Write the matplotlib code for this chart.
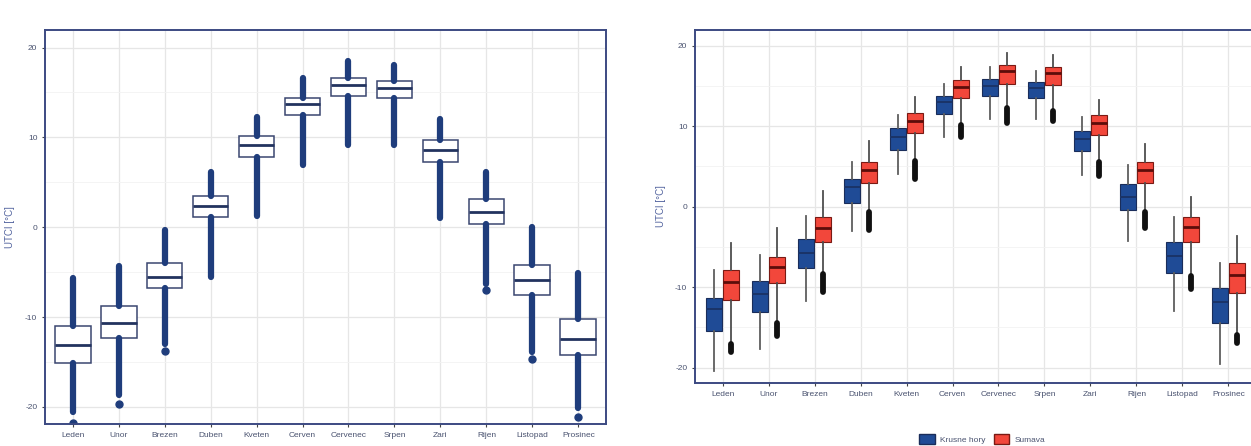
import numpy as np
import matplotlib
matplotlib.use("Agg")
import matplotlib.pyplot as plt
from matplotlib.patches import Patch

plt.rcParams['font.family'] = ['Liberation Sans', 'DejaVu Sans']
plt.rcParams['axes.unicode_minus'] = False

months = ['Leden', 'Unor', 'Brezen', 'Duben', 'Kveten', 'Cerven', 'Cervenec',
          'Srpen', 'Zari', 'Rijen', 'Listopad', 'Prosinec']
yticks = [-20, -10, 0, 10, 20]
ylabel = 'UTCI [°C]'

# Left panel: all stations
all_min = [-20.6, -18.7, -13.0, -5.5, 1.3, 6.9, 9.1, 9.1, 1.0, -6.3, -13.9, -20.1]
all_q1 = [-15.1, -12.3, -6.8, 1.1, 7.8, 12.5, 14.6, 14.4, 7.3, 0.4, -7.5, -14.2]
all_med = [-13.1, -10.7, -5.5, 2.4, 9.1, 13.7, 15.8, 15.5, 8.6, 1.7, -5.9, -12.4]
all_q3 = [-11.0, -8.8, -4.0, 3.5, 10.1, 14.4, 16.6, 16.3, 9.7, 3.1, -4.2, -10.2]
all_max = [-5.7, -4.3, -0.3, 6.2, 12.3, 16.6, 18.5, 18.1, 12.0, 6.2, 0.0, -5.1]
all_isolated = [[-21.8], [-19.7], [-13.8], [], [], [], [], [], [], [-7.0], [-14.7], [-21.1]]

# Right panel: Krusne hory
kh_lo = [-20.4, -17.7, -11.7, -3.0, 4.1, 8.6, 10.9, 10.9, 3.9, -4.2, -12.9, -19.5]
kh_q1 = [-15.4, -13.1, -7.6, 0.5, 7.1, 11.5, 13.7, 13.5, 6.9, -0.4, -8.2, -14.4]
kh_med = [-12.7, -10.9, -5.7, 2.4, 8.7, 13.0, 15.0, 14.8, 8.4, 1.2, -6.1, -11.9]
kh_q3 = [-11.3, -9.2, -4.0, 3.5, 9.8, 13.8, 15.9, 15.5, 9.4, 2.8, -4.4, -10.1]
kh_hi = [-7.9, -6.0, -1.2, 5.6, 11.4, 15.2, 17.3, 16.9, 11.2, 5.2, -1.3, -7.0]

# Right panel: Sumava
su_lo = [-16.8, -14.2, -8.2, -0.5, 5.9, 10.3, 12.3, 12.0, 5.8, -0.5, -8.4, -15.8]
su_q1 = [-11.6, -9.5, -4.4, 2.9, 9.2, 13.5, 15.3, 15.1, 8.9, 2.9, -4.4, -10.7]
su_med = [-9.4, -7.5, -2.6, 4.6, 10.7, 14.9, 16.8, 16.6, 10.4, 4.5, -2.5, -8.5]
su_q3 = [-7.9, -6.2, -1.3, 5.6, 11.6, 15.8, 17.6, 17.4, 11.4, 5.5, -1.3, -7.0]
su_hi = [-4.5, -2.6, 1.9, 8.2, 13.6, 17.4, 19.1, 18.8, 13.3, 7.8, 1.2, -3.6]
su_out_hi = [-17.0, -14.4, -8.4, -0.7, 5.7, 10.2, 12.2, 11.9, 5.6, -0.6, -8.6, -15.9]
su_out_lo = [-18.1, -16.0, -10.6, -2.9, 3.5, 8.6, 10.4, 10.6, 3.8, -2.6, -10.2, -16.9]

series_names = ['Krusne hory', 'Sumava']

NAVY = '#1f3d7c'
FRAME = '#3c4a82'
BLUE = '#1f4b96'
RED = '#f2473b'

W, H = 1251, 446
fig = plt.figure(figsize=(W / 100, H / 100), dpi=100)

ax1 = fig.add_axes([45 / W, 22 / H, 561 / W, 394 / H])
ax2 = fig.add_axes([695 / W, 63 / H, 561 / W, 353 / H])


def style(ax):
    ax.set_xlim(0.4, 12.6)
    ax.set_ylim(-21.9, 21.95)
    ax.set_xticks(np.arange(1, 13))
    ax.set_xticklabels(months)
    ax.set_yticks(yticks)
    ax.set_yticklabels([str(t) for t in yticks])
    ax.set_yticks([-15, -5, 5, 15], minor=True)
    ax.tick_params(axis='both', which='major', length=2.5, width=0.8, color='#444444',
                   labelsize=6, labelcolor='#4a5370', pad=3)
    ax.tick_params(axis='y', which='minor', length=0)
    ax.grid(True, which='major', color='#e6e6e6', lw=0.9)
    ax.grid(True, which='minor', axis='y', color='#f2f2f2', lw=0.6)
    ax.set_axisbelow(True)
    for s in ax.spines.values():
        s.set_color(FRAME)
        s.set_linewidth(1.4)
    ax.set_ylabel(ylabel, fontsize=7, color='#5566a0')


style(ax1)
style(ax2)
ax1.yaxis.set_label_coords(-30 / 561, 0.5)
ax2.yaxis.set_label_coords(-29 / 561, 0.5)

# Left panel boxes
pos = np.arange(1, 13)
stats_all = [dict(med=all_med[i], q1=all_q1[i], q3=all_q3[i], whislo=all_min[i],
                  whishi=all_max[i], fliers=all_isolated[i]) for i in range(12)]
ax1.bxp(stats_all, positions=pos, widths=0.78, patch_artist=True, showcaps=False,
        boxprops=dict(facecolor='white', edgecolor='#3a4670', lw=1.1),
        whiskerprops=dict(color=NAVY, lw=4.5, solid_capstyle='round'),
        medianprops=dict(color='#22335f', lw=2.0),
        flierprops=dict(marker='o', markerfacecolor=NAVY, markeredgecolor=NAVY,
                        markersize=5))

# Right panel boxes
off = 0.1875
stats_kh = [dict(med=kh_med[i], q1=kh_q1[i], q3=kh_q3[i], whislo=kh_lo[i],
                 whishi=kh_hi[i], fliers=[]) for i in range(12)]
stats_su = [dict(med=su_med[i], q1=su_q1[i], q3=su_q3[i], whislo=su_lo[i],
                 whishi=su_hi[i], fliers=[]) for i in range(12)]
ax2.bxp(stats_kh, positions=pos - off, widths=0.36, patch_artist=True, showcaps=False,
        boxprops=dict(facecolor=BLUE, edgecolor='#1a2d5a', lw=0.8),
        whiskerprops=dict(color='#5e5e5e', lw=1.3),
        medianprops=dict(color='#1a3468', lw=1.4))
ax2.bxp(stats_su, positions=pos + off, widths=0.36, patch_artist=True, showcaps=False,
        boxprops=dict(facecolor=RED, edgecolor='#7a1a14', lw=0.8),
        whiskerprops=dict(color='#4e4e4e', lw=1.3),
        medianprops=dict(color='#5c0d0a', lw=2.0))
ax2.vlines(pos + off, su_out_lo, su_out_hi, color='#111111', lw=4.2,
           capstyle='round', zorder=3)

for ax in (ax1, ax2):
    ax.set_xlim(0.4, 12.6)
    ax.set_xticks(np.arange(1, 13))
    ax.set_xticklabels(months)

handles = [Patch(facecolor=BLUE, edgecolor='#1a2d5a'),
           Patch(facecolor=RED, edgecolor='#7a1a14')]
fig.legend(handles, series_names, loc='center', bbox_to_anchor=(982 / W, 1 - 439 / H),
           ncol=2, frameon=False, fontsize=6, handlelength=1.9, handleheight=1.5,
           columnspacing=1.0, handletextpad=0.6, labelcolor='#4a5370')

fig.savefig('out.png', dpi=100, facecolor='white')
